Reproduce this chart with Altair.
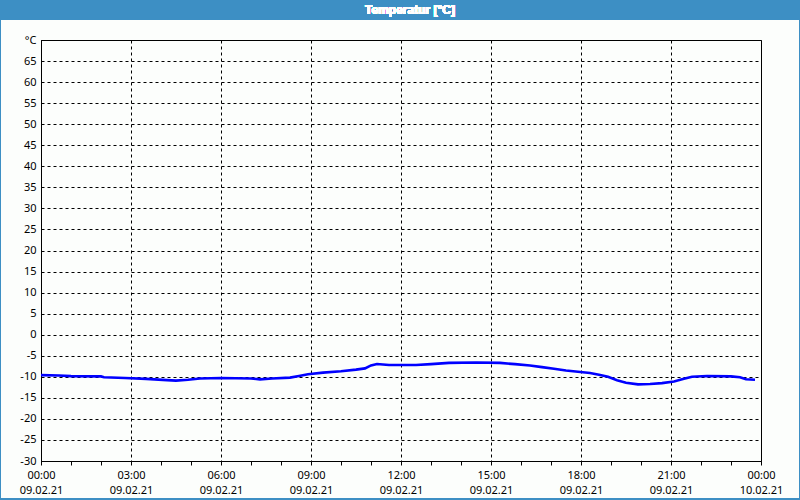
import json
import altair as alt
import pandas as pd

# ---- data (hours since 09.02.21 00:00, temperature in °C) ----
hours = [0.0, 0.6, 1.0, 2.0, 2.1, 2.8, 3.5, 4.2, 4.5, 4.9, 5.3, 6.0, 7.0, 7.3, 7.7,
         8.3, 8.6, 8.9, 9.4, 10.0, 10.5, 10.8, 11.0, 11.2, 11.6, 12.5, 13.0, 13.6,
         14.5, 15.3, 15.8, 16.3, 16.7, 17.1, 17.5, 17.9, 18.3, 18.6, 18.9, 19.2,
         19.5, 19.9, 20.3, 20.7, 21.1, 21.4, 21.7, 22.2, 23.0, 23.3, 23.5, 23.8]
temps = [-9.6, -9.7, -9.85, -9.9, -10.1, -10.3, -10.5, -10.8, -10.9, -10.7, -10.4,
         -10.3, -10.4, -10.6, -10.4, -10.2, -9.8, -9.4, -9.0, -8.7, -8.3, -8.0,
         -7.3, -6.95, -7.2, -7.2, -7.0, -6.7, -6.6, -6.7, -7.0, -7.3, -7.7, -8.1,
         -8.5, -8.8, -9.1, -9.5, -10.0, -10.8, -11.4, -11.8, -11.7, -11.5, -11.1,
         -10.5, -10.0, -9.8, -9.9, -10.1, -10.6, -10.7]

y_ticks = list(range(-30, 75, 5))
x_ticks = list(range(0, 25))
time_labels = ["00:00", "03:00", "06:00", "09:00", "12:00", "15:00", "18:00", "21:00", "00:00"]
date_labels = ["09.02.21"] * 8 + ["10.02.21"]
title_text = "Temperatur [°C]"
unit_label = "°C"

df = pd.DataFrame({"h": hours, "t": temps})

FONT = "Noto Sans"
BLUE_BAR = "#3d8fc4"

x_label_expr = (
    "datum.value % 3 == 0 ? [" + json.dumps(time_labels) + "[datum.value / 3], "
    + json.dumps(date_labels) + "[datum.value / 3]] : ''"
)
y_label_expr = "datum.value == 70 ? '" + unit_label + "' : '' + datum.value"

x_enc = alt.X(
    "h:Q",
    scale=alt.Scale(domain=[0, 24], nice=False, zero=False),
    axis=alt.Axis(
        values=x_ticks,
        title=None,
        labelExpr=x_label_expr,
        labelFont=FONT,
        labelFontSize=11,
        labelColor="#000000",
        labelPadding=4,
        labelLineHeight=15,
        labelAngle=0,
        labelOverlap=False,
        labelFlush=False,
        tickSize=4,
        tickColor="#000000",
        domainColor="#000000",
        grid=True,
        gridColor="#000000",
        gridDash=[3, 3],
        gridOpacity={"condition": {"test": "datum.value % 3 == 0", "value": 1}, "value": 0},
    ),
)
y_enc = alt.Y(
    "t:Q",
    scale=alt.Scale(domain=[-30, 70], nice=False, zero=False),
    axis=alt.Axis(
        values=y_ticks,
        title=None,
        labelExpr=y_label_expr,
        labelFont=FONT,
        labelFontSize=11,
        labelColor="#000000",
        labelPadding=5,
        labelOverlap=False,
        labelFlush=False,
        ticks=False,
        domainColor="#000000",
        grid=True,
        gridColor="#000000",
        gridDash=[3, 3],
    ),
)

line = alt.Chart(df).mark_line(color="#0000ff", strokeWidth=2.6).encode(x=x_enc, y=y_enc)

# window decorations: title bar and thin blue frame
bar = alt.Chart(df).mark_rect(color=BLUE_BAR).encode(
    x=alt.value(-41), x2=alt.value(759), y=alt.value(-40), y2=alt.value(-20)
)
title = alt.Chart(df).mark_text(
    text=title_text, font="Liberation Sans", fontSize=12, fontWeight="bold", color="#ffffff",
    align="center", baseline="middle"
).encode(x=alt.value(369), y=alt.value(-30))
frame_l = alt.Chart(df).mark_rule(color=BLUE_BAR, strokeWidth=1).encode(
    x=alt.value(-40.5), y=alt.value(-40), y2=alt.value(460))
frame_r = alt.Chart(df).mark_rule(color=BLUE_BAR, strokeWidth=1).encode(
    x=alt.value(758.5), y=alt.value(-40), y2=alt.value(460))
frame_b = alt.Chart(df).mark_rule(color=BLUE_BAR, strokeWidth=2).encode(
    x=alt.value(-41), x2=alt.value(759), y=alt.value(459))

chart = alt.layer(line, bar, title, frame_l, frame_r, frame_b).properties(
    width=720,
    height=421,
    padding={"left": 41, "top": 40, "right": 39, "bottom": 39},
    autosize=alt.AutoSizeParams(type="none"),
    background="#fcfefc",
).configure_view(stroke="#000000", strokeWidth=1)

chart.save("out.html", embed_options={"renderer": "svg", "actions": False})
